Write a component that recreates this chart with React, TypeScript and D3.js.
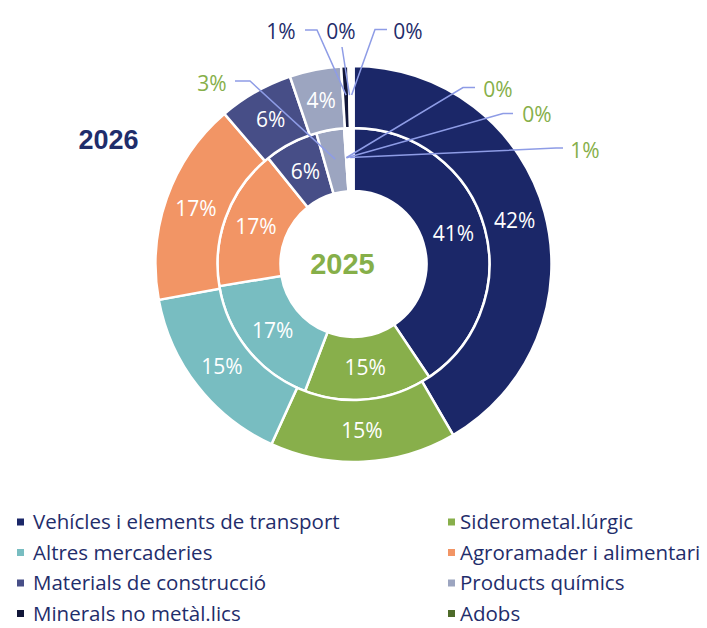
import React, { useEffect, useRef } from "react";
import * as d3 from "d3";

// Categories (the last one is an unlabeled remainder, drawn white, not in the legend)
const categories = [
  "Vehícles i elements de transport",
  "Siderometal.lúrgic",
  "Altres mercaderies",
  "Agroramader i alimentari",
  "Materials de construcció",
  "Products químics",
  "Minerals no metàl.lics",
  "Adobs",
  "Altres",
];
const colors = ["#1B2768", "#88AF4B", "#78BDC1", "#F29565", "#474E87", "#9CA5C0", "#111638", "#4E6B2A", "#FFFFFF"];

// Share of each category (%)
const values2026 = [41.6, 15.2, 15.3, 16.6, 6.1, 4.2, 0.6, 0.05, 0.35];
const values2025 = [40.6, 15.2, 16.6, 16.8, 6.4, 3.3, 0.05, 0.05, 1.0];

const legendItems = categories.slice(0, 8);

// placement of labels that sit outside the ring (layout only)
const outerCallouts = {
  6: { x: 281, y: 31, path: [[305, 30], [317, 30]] },
  7: { x: 341, y: 31, path: [[342, 47]] },
  8: { x: 408, y: 31, path: [[387, 29.5], [375, 29.5]] },
};
const innerCallouts = {
  5: { x: 212, y: 83, path: [[235, 81], [250, 81]] },
  6: { x: 498, y: 89, path: [[475, 87.5], [463, 87.5]] },
  7: { x: 537, y: 114, path: [[513, 113.5], [503, 113.5]] },
  8: { x: 585, y: 150, path: [[563, 148], [556, 148]] },
};

const App = () => {
  const svgRef = useRef();

  useEffect(() => {
    const width = 707,
      height = 628;
    const cx = 353.5,
      cy = 264;
    const rHole = 73,
      rMid = 136,
      rOuter = 198;
    const navy = "#1F2D6B";
    const green = "#86AF49";
    const font = "'Open Sans', 'Noto Sans', sans-serif";

    d3.select(svgRef.current).selectAll("*").remove();

    const svg = d3
      .select(svgRef.current)
      .attr("width", width)
      .attr("height", height)
      .style("position", "absolute")
      .style("left", 0)
      .style("top", 0)
      .style("background", "#fff");

    const g = svg.append("g").attr("transform", `translate(${cx},${cy})`);

    const pie = d3
      .pie()
      .sort(null)
      .value((d) => d);

    const fmt = d3.format(".0%");

    const rings = [
      { values: values2025, r0: rHole, r1: rMid, callouts: innerCallouts, labelColor: green, inside: 3.5 },
      { values: values2026, r0: rMid, r1: rOuter, callouts: outerCallouts, labelColor: navy, inside: 3.5 },
    ];

    const lines = svg.append("g");

    rings.forEach((ring) => {
      const total = d3.sum(ring.values);
      const arcs = pie(ring.values);
      const arc = d3.arc().innerRadius(ring.r0).outerRadius(ring.r1);
      const anchorArc = d3
        .arc()
        .innerRadius((ring.r0 + ring.r1) / 2 + 2)
        .outerRadius((ring.r0 + ring.r1) / 2 + 2);

      g.append("g")
        .selectAll("path")
        .data(arcs)
        .join("path")
        .attr("d", arc)
        .attr("fill", (d, i) => colors[i])
        .attr("stroke", "#fff")
        .attr("stroke-width", 2.5);

      // labels inside the slices
      g.append("g")
        .selectAll("text")
        .data(arcs.filter((d) => d.value >= ring.inside))
        .join("text")
        .attr("transform", (d) => `translate(${arc.centroid(d)})`)
        .attr("text-anchor", "middle")
        .attr("dy", "0.36em")
        .attr("fill", "#fff")
        .style("font-family", font)
        .style("font-size", "21px")
        .text((d) => fmt(d.value / total));

      // labels outside with leader lines
      arcs.forEach((d, i) => {
        const c = ring.callouts[i];
        if (!c) return;
        const [ax, ay] = anchorArc.centroid(d);
        const pts = [...c.path, [ax + cx, ay + cy]];
        lines
          .append("path")
          .attr("d", d3.line()(pts))
          .attr("fill", "none")
          .attr("stroke", "#8E9CE6")
          .attr("stroke-width", 1.5);
        svg
          .append("text")
          .attr("x", c.x)
          .attr("y", c.y)
          .attr("text-anchor", "middle")
          .attr("dy", "0.36em")
          .attr("fill", ring.labelColor)
          .style("font-family", font)
          .style("font-size", "21px")
          .text(fmt(d.value / total));
      });
    });

    lines.raise();

    // Ring titles
    svg
      .append("text")
      .attr("x", 342.5)
      .attr("y", cy)
      .attr("dy", "0.35em")
      .attr("text-anchor", "middle")
      .attr("fill", green)
      .style("font-family", "'Liberation Sans', Arial, sans-serif")
      .style("font-weight", "bold")
      .style("font-size", "29px")
      .text("2025");

    svg
      .append("text")
      .attr("x", 108.5)
      .attr("y", 140)
      .attr("dy", "0.35em")
      .attr("text-anchor", "middle")
      .attr("fill", navy)
      .style("font-family", "'Liberation Sans', Arial, sans-serif")
      .style("font-weight", "bold")
      .style("font-size", "27px")
      .text("2026");

    // Legend, two columns
    const legend = svg
      .append("g")
      .selectAll("g")
      .data(legendItems)
      .join("g")
      .attr("transform", (d, i) => `translate(${i % 2 === 0 ? 17 : 448},${522 + Math.floor(i / 2) * 30.5})`);

    legend
      .append("rect")
      .attr("x", 0)
      .attr("y", -3.5)
      .attr("width", 7)
      .attr("height", 7)
      .attr("fill", (d, i) => colors[i]);

    legend
      .append("text")
      .attr("x", (d, i) => (i % 2 === 0 ? 16 : 12))
      .attr("dy", "0.36em")
      .attr("fill", navy)
      .style("font-family", font)
      .style("font-size", "20.5px")
      .text((d) => d);
  }, []);

  return <svg ref={svgRef}></svg>;
};

export default App;
